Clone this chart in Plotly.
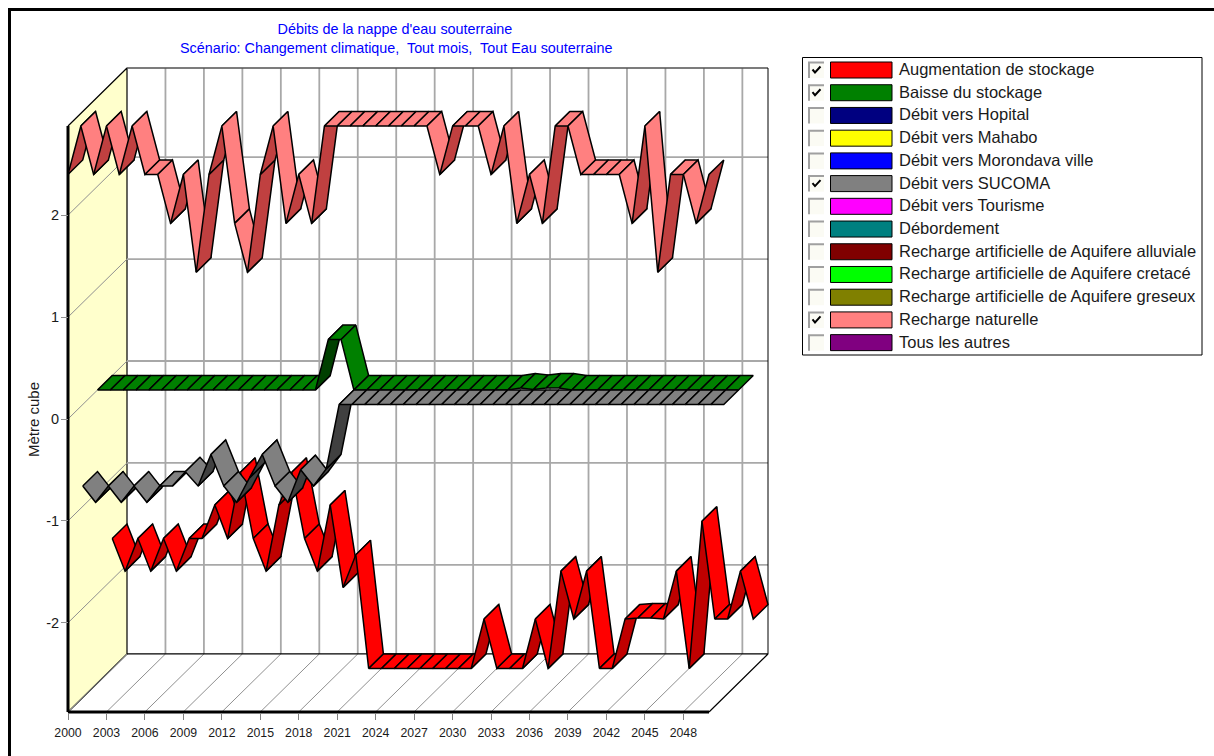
import plotly.graph_objects as go

years = list(range(2000, 2051))
tick_years = list(range(2000, 2049, 3))
y_ticks = [-2, -1, 0, 1, 2]
y_tick_labels = ["-2", "-1", "0", "1", "2"]

augmentation = [-1.6, -1.92, -1.6, -1.92, -1.6, -1.92, -1.6, -1.6, -1.27, -1.6, -0.95, -1.6, -1.92, -1.27, -0.95, -1.6, -1.92, -1.27, -2.08, -1.76,
                -2.875, -2.875, -2.875, -2.875, -2.875, -2.875, -2.875, -2.875, -2.875, -2.39, -2.875, -2.875, -2.875, -2.39, -2.875, -1.92, -2.39, -1.92, -2.875, -2.875,
                -2.39, -2.38, -2.38, -2.39, -1.92, -2.875, -1.43, -2.39, -2.39, -1.92, -2.39]
baisse = [0.0] * 18 + [0.495, 0.495] + [0.0] * 13 + [0.02, 0.005, 0.02, 0.02] + [0.0] * 14
sucoma = [-0.8, -0.96, -0.8, -0.96, -0.8, -0.96, -0.8, -0.8, -0.66, -0.8, -0.49, -0.8, -0.96, -0.72, -0.49, -0.8, -0.96, -0.64, -0.8, -0.63] + [0.0] * 31
recharge = [2.4, 2.875, 2.4, 2.875, 2.4, 2.875, 2.4, 2.4, 1.92, 2.4, 1.44, 2.4, 2.875, 1.92, 1.44, 2.4, 2.875, 1.92, 2.4, 1.92,
            2.875, 2.875, 2.875, 2.875, 2.875, 2.875, 2.875, 2.875, 2.875, 2.4, 2.875, 2.875, 2.875, 2.4, 2.875, 1.92, 2.4, 1.92, 2.875, 2.875,
            2.4, 2.4, 2.4, 2.4, 1.92, 2.875, 1.44, 2.4, 2.4, 1.92, 2.4]

# rear to front
series = [
    ("Augmentation de stockage", augmentation, "#FF0000", "#C00000", 3),
    ("Baisse du stockage", baisse, "#008000", "#004000", 2),
    ("Débit vers SUCOMA", sucoma, "#808080", "#404040", 1),
    ("Recharge naturelle", recharge, "#FF8080", "#C04040", 0),
]

legend_names = ["Augmentation de stockage", "Baisse du stockage", "Débit vers Hopital", "Débit vers Mahabo",
                "Débit vers Morondava ville", "Débit vers SUCOMA", "Débit vers Tourisme", "Débordement",
                "Recharge artificielle de Aquifere alluviale", "Recharge artificielle de Aquifere cretacé",
                "Recharge artificielle de Aquifere greseux", "Recharge naturelle", "Tous les autres"]
legend_colors = ["#FF0000", "#008000", "#000080", "#FFFF00", "#0000FF", "#808080", "#FF00FF", "#008080",
                 "#800000", "#00FF00", "#808000", "#FF8080", "#800080"]
legend_checked = [True, True, False, False, False, True, False, False, False, False, False, True, False]

W, H = 1214, 756
FONT = "Liberation Sans"
X0, X1 = 2000, 2050
Y0, Y1 = -2.875, 2.875
PX_YEAR = 12.82
PX_UNIT = 101.9
ORIGIN_PX, ZERO_PY = 68, 419
DX = 59 / PX_YEAR     # depth offset, in years
DY = 58 / PX_UNIT     # depth offset, in value units
N_SLICES = 4


def fx(px):
    return px / W


def fy(py):
    return 1 - py / H


fig = go.Figure()


def line(xs, ys, color, width):
    fig.add_trace(go.Scatter(x=xs, y=ys, mode="lines", line=dict(color=color, width=width),
                             hoverinfo="skip", showlegend=False))


# side wall
fig.add_trace(go.Scatter(x=[X0, X0 + DX, X0 + DX, X0, X0], y=[Y1, Y1 + DY, Y0 + DY, Y0, Y1], mode="lines",
                         fill="toself", fillcolor="#FFFFCC", line=dict(color="#000000", width=1.2),
                         hoverinfo="skip", showlegend=False))
# grid
GRID = "#A8A8A8"
for v in y_ticks:
    line([X0, X0 + DX], [v, v + DY], "#909090", 1)
    line([X0 + DX, X1 + DX], [v + DY, v + DY], GRID, 1.8)
for t in tick_years:
    line([t, t + DX], [Y0, Y0 + DY], "#909090", 1)
    if t > X0:
        line([t + DX, t + DX], [Y0 + DY, Y1 + DY], GRID, 1.8)
# frame of back wall and floor
line([X0 + DX, X1 + DX], [Y1 + DY, Y1 + DY], "#505050", 1.5)
line([X1 + DX, X1 + DX], [Y1 + DY, Y0 + DY], "#000000", 1)
line([X0 + DX, X1 + DX, X1], [Y0 + DY, Y0 + DY, Y0], "#000000", 1.2)
line([X0, X0], [Y1, Y0], "#000000", 3)
line([X0, X1], [Y0, Y0], "#000000", 3)

# ribbons
for name, vals, base, dark, k in series:
    sx0 = k * DX / N_SLICES
    sy0 = k * DY / N_SLICES
    sx1 = (k + 1) * DX / N_SLICES
    sy1 = (k + 1) * DY / N_SLICES
    for i in range(len(years) - 1):
        a, b = vals[i], vals[i + 1]
        col = dark if b - a > 0.05 else base
        xa, xb = years[i], years[i + 1]
        fig.add_trace(go.Scatter(
            x=[xa + sx0, xb + sx0, xb + sx1, xa + sx1, xa + sx0],
            y=[a + sy0, b + sy0, b + sy1, a + sy1, a + sy0],
            mode="lines", fill="toself", fillcolor=col,
            line=dict(color="#000000", width=1.5, simplify=False),
            name=name, legendgroup=name, showlegend=False,
            text=[f"{name} {xa}: {a}"] * 5, hoverinfo="text"))

shapes = [dict(type="rect", xref="paper", yref="paper", x0=fx(9.5), x1=fx(W + 10), y0=fy(9.5), y1=fy(H + 10),
               line=dict(color="#000000", width=3), layer="above")]
annotations = []

# legend box
LX0, LX1, LY0, LY1 = 802.5, 1202, 57.5, 355
shapes.append(dict(type="rect", xref="paper", yref="paper", x0=fx(LX0), x1=fx(LX1), y0=fy(LY0), y1=fy(LY1),
                   line=dict(color="#000000", width=1), fillcolor="#FFFFFF"))
ROW = 22.72
for i, (nm, col, chk) in enumerate(zip(legend_names, legend_colors, legend_checked)):
    cy = 70 + i * ROW
    # checkbox (sunken)
    shapes.append(dict(type="rect", xref="paper", yref="paper", x0=fx(808.5), x1=fx(824), y0=fy(cy - 8), y1=fy(cy + 8),
                       line=dict(width=0), fillcolor="#FBFBF4"))
    shapes.append(dict(type="path", xref="paper", yref="paper",
                       path=f"M {fx(809)} {fy(cy + 8)} L {fx(809)} {fy(cy - 7.5)} L {fx(824)} {fy(cy - 7.5)}",
                       line=dict(color="#A0A0A0", width=2)))
    if chk:
        shapes.append(dict(type="path", xref="paper", yref="paper",
                           path=f"M {fx(812.5)} {fy(cy - 0.5)} L {fx(815)} {fy(cy + 2.5)} L {fx(820.5)} {fy(cy - 3.5)}",
                           line=dict(color="#000000", width=2)))
    # swatch
    shapes.append(dict(type="rect", xref="paper", yref="paper", x0=fx(830.5), x1=fx(892), y0=fy(cy - 8), y1=fy(cy + 8),
                       line=dict(color="#000000", width=1), fillcolor=col))
    annotations.append(dict(xref="paper", yref="paper", x=fx(899), y=fy(cy), xanchor="left", yanchor="middle",
                            text=nm, showarrow=False, xshift=-2, yshift=1,
                            font=dict(family=FONT, size=16.5, color="#1A1A1A")))

annotations.append(dict(xref="paper", yref="paper", x=fx(396), y=fy(48), xanchor="center", yanchor="middle",
                        text="Scénario: Changement climatique,  Tout mois,  Tout Eau souterraine", showarrow=False,
                        font=dict(family=FONT, size=14.35, color="#0000FF")))
annotations.append(dict(xref="paper", yref="paper", x=fx(33), y=fy(420), xanchor="center", yanchor="middle",
                        text="Mètre cube", textangle=-90, showarrow=False,
                        font=dict(family=FONT, size=15, color="#1A1A1A")))

fig.update_layout(
    width=W, height=H, margin=dict(l=0, r=0, t=0, b=0), autosize=False,
    paper_bgcolor="#FFFFFF", plot_bgcolor="rgba(0,0,0,0)", showlegend=False,
    font=dict(family=FONT, color="#1A1A1A"),
    title=dict(text="Débits de la nappe d'eau souterraine", x=fx(395), xanchor="center", xref="paper",
               y=fy(29), yanchor="middle", yref="paper", font=dict(family=FONT, size=14.4, color="#0000FF")),
    xaxis=dict(domain=[0, 1], range=[X0 - ORIGIN_PX / PX_YEAR, X0 + (W - ORIGIN_PX) / PX_YEAR],
               anchor="free", position=fy(713), tickvals=tick_years, ticktext=[str(t) for t in tick_years],
               tickangle=0, showgrid=False, zeroline=False, showline=False,
               ticks="outside", ticklen=6, tickcolor="#808080", tickwidth=1, ticklabelstandoff=2,
               tickfont=dict(size=12.3, family=FONT), automargin=False),
    yaxis=dict(domain=[0, 1], range=[(ZERO_PY - H) / PX_UNIT, ZERO_PY / PX_UNIT],
               anchor="free", position=fx(68), tickvals=y_ticks, ticktext=y_tick_labels,
               showgrid=False, zeroline=False, showline=False, ticks="outside", ticklen=7,
               tickcolor="#909090", tickwidth=1, ticklabelstandoff=-1,
               tickfont=dict(size=14.5, family=FONT), automargin=False),
    shapes=shapes, annotations=annotations,
)

fig.write_html("out.html", config=dict(displayModeBar=False),
               post_script="document.body.style.margin='0';document.body.style.overflow='hidden';")
